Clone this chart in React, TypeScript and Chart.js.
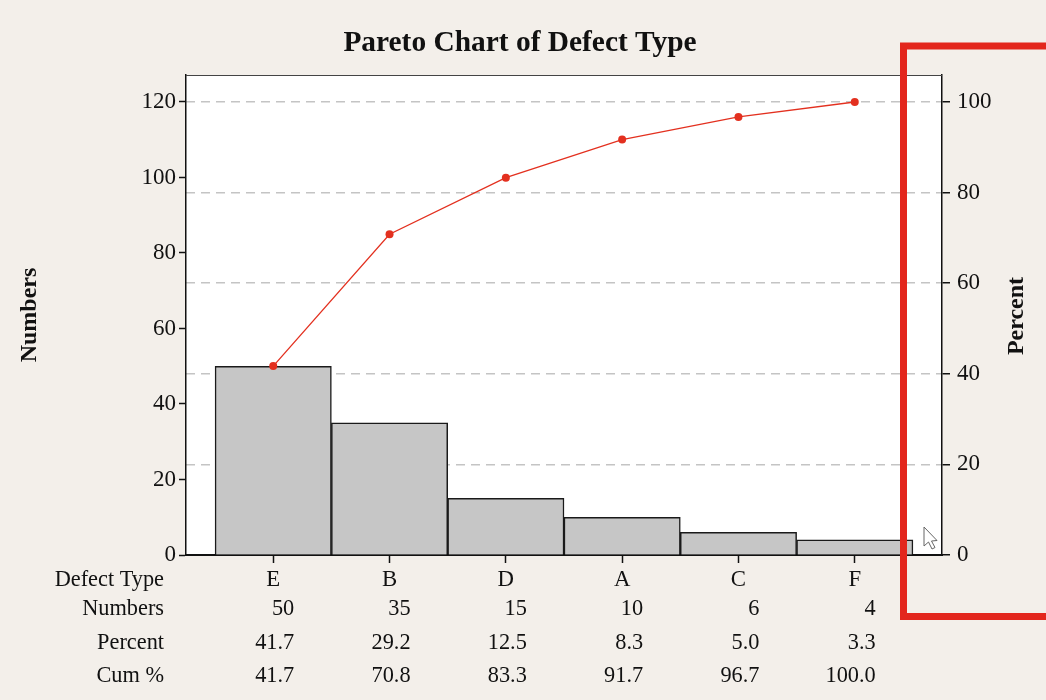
import React, { useEffect, useRef } from 'react';
import { Chart, registerables } from 'chart.js';

Chart.register(...registerables);

const categories = ['E', 'B', 'D', 'A', 'C', 'F'];
const counts = [50, 35, 15, 10, 6, 4];
const percents = [41.7, 29.2, 12.5, 8.3, 5.0, 3.3];
const cumPercents = [41.7, 70.8, 83.3, 91.7, 96.7, 100.0];
const rowLabels = ['Defect Type', 'Numbers', 'Percent', 'Cum %'];
const leftTicks = [0, 20, 40, 60, 80, 100, 120];
const rightTicks = [0, 20, 40, 60, 80, 100];
const chartTitle = 'Pareto Chart of Defect Type';
const leftTitle = 'Numbers';
const rightTitle = 'Percent';

const FONT = '"Liberation Serif", "Times New Roman", serif';

function drawText(
  ctx: CanvasRenderingContext2D,
  text: string,
  x: number,
  y: number,
  align: CanvasTextAlign,
  font: string,
  sx = 1,
  rot = 0
) {
  ctx.save();
  ctx.translate(x, y);
  if (rot) ctx.rotate(rot);
  ctx.scale(sx, 1);
  ctx.font = font;
  ctx.fillStyle = '#111';
  ctx.textAlign = align;
  ctx.textBaseline = 'middle';
  ctx.fillText(text, 0, 0);
  ctx.restore();
}

const paretoPlugin = {
  id: 'paretoDecor',
  beforeDraw(chart: any) {
    const { ctx, chartArea: a } = chart;
    ctx.save();
    ctx.fillStyle = '#f3efea';
    ctx.fillRect(0, 0, chart.width, chart.height);
    ctx.fillStyle = '#ffffff';
    ctx.fillRect(a.left, a.top, a.right - a.left, a.bottom - a.top);
    ctx.restore();
  },
  afterDraw(chart: any) {
    const { ctx, chartArea: a } = chart;
    const xs = chart.scales.x;
    ctx.save();
    ctx.strokeStyle = '#444';
    ctx.lineWidth = 1.2;
    ctx.beginPath();
    ctx.moveTo(a.left, a.top + 0.5);
    ctx.lineTo(a.right, a.top + 0.5);
    ctx.stroke();
    ctx.restore();

    drawText(ctx, chartTitle, 520, 43, 'center', `bold 30px ${FONT}`, 0.98);
    drawText(ctx, leftTitle, 30, 315, 'center', `bold 24px ${FONT}`, 1, -Math.PI / 2);
    drawText(ctx, rightTitle, 1017, 316, 'center', `bold 24px ${FONT}`, 1, -Math.PI / 2);

    const rowY = [580, 609, 643, 676];
    const tf = `24px ${FONT}`;
    rowLabels.forEach((lab, r) => {
      drawText(ctx, lab, 164, rowY[r], 'right', tf, 0.93);
    });
    categories.forEach((c, i) => {
      const px = xs.getPixelForValue(i);
      drawText(ctx, c, px, rowY[0], 'center', tf, 0.95);
      drawText(ctx, String(counts[i]), px + 21, rowY[1], 'right', tf, 0.93);
      drawText(ctx, percents[i].toFixed(1), px + 21, rowY[2], 'right', tf, 0.93);
      drawText(ctx, cumPercents[i].toFixed(1), px + 21, rowY[3], 'right', tf, 0.93);
    });

    // mouse cursor
    ctx.save();
    ctx.translate(924, 527);
    ctx.beginPath();
    ctx.moveTo(0, 0);
    ctx.lineTo(0, 19);
    ctx.lineTo(4.5, 15);
    ctx.lineTo(8, 22);
    ctx.lineTo(11, 20.5);
    ctx.lineTo(7.5, 14);
    ctx.lineTo(13, 13.5);
    ctx.closePath();
    ctx.fillStyle = '#ffffff';
    ctx.fill();
    ctx.strokeStyle = '#666';
    ctx.lineWidth = 1;
    ctx.stroke();
    ctx.restore();

    // red highlight rectangle
    ctx.save();
    ctx.strokeStyle = '#e3261d';
    ctx.lineWidth = 7;
    ctx.strokeRect(903.5, 46, 200, 570.5);
    ctx.restore();
  },
};

export default function App() {
  const ref = useRef<HTMLCanvasElement | null>(null);
  useEffect(() => {
    if (!ref.current) return;
    const chart = new Chart(ref.current, {
      data: {
        datasets: [
          {
            type: 'line',
            label: 'Cum %',
            data: cumPercents.map((v, i) => ({ x: i, y: v })),
            yAxisID: 'y1',
            borderColor: '#e3301f',
            backgroundColor: '#e3301f',
            borderWidth: 1.3,
            pointRadius: 4,
            pointBackgroundColor: '#e3301f',
            pointBorderWidth: 0,
            order: 0,
          },
          {
            type: 'bar',
            label: 'Numbers',
            data: counts.map((v, i) => ({ x: i, y: v })),
            yAxisID: 'y',
            backgroundColor: '#c6c6c6',
            borderColor: '#1a1a1a',
            borderWidth: 1.5,
            borderSkipped: 'bottom',
            barPercentage: 1,
            categoryPercentage: 1,
            order: 1,
          },
        ] as any,
      },
      options: {
        responsive: false,
        animation: false,
        devicePixelRatio: 1,
        layout: { padding: { top: 75, left: 0, right: 0, bottom: 0 } },
        plugins: {
          legend: { display: false },
          title: { display: false },
          tooltip: { enabled: false },
        },
        scales: {
          x: {
            type: 'linear',
            min: -0.75,
            max: 5.75,
            offset: false,
            afterBuildTicks: (s: any) => {
              s.ticks = categories.map((_, i) => ({ value: i }));
            },
            afterFit: (s: any) => {
              s.height = 145;
            },
            ticks: { display: false },
            grid: {
              offset: false,
              drawOnChartArea: false,
              drawTicks: true,
              tickLength: 8,
              tickColor: '#111',
              tickWidth: 1.5,
            },
            border: { color: '#111', width: 2 },
          },
          y: {
            type: 'linear',
            position: 'left',
            min: 0,
            max: 127.15,
            afterBuildTicks: (s: any) => {
              s.ticks = leftTicks.map((v) => ({ value: v }));
            },
            afterFit: (s: any) => {
              s.width = 186;
            },
            ticks: {
              color: '#111',
              font: { family: FONT, size: 23 },
              padding: 3,
            },
            grid: {
              drawOnChartArea: false,
              drawTicks: true,
              tickLength: 7,
              tickColor: '#111',
              tickWidth: 1.5,
            },
            border: { color: '#111', width: 1.5 },
          },
          y1: {
            type: 'linear',
            position: 'right',
            min: 0,
            max: 105.96,
            afterBuildTicks: (s: any) => {
              s.ticks = rightTicks.map((v) => ({ value: v }));
            },
            afterFit: (s: any) => {
              s.width = 104;
            },
            ticks: {
              color: '#111',
              font: { family: FONT, size: 23 },
              padding: 7,
            },
            grid: {
              drawOnChartArea: true,
              drawTicks: true,
              tickLength: 8,
              color: '#c4c4c4',
              lineWidth: 1.5,
              tickColor: '#111',
              tickWidth: 1.5,
              tickBorderDash: [],
            } as any,
            border: { color: '#111', width: 1.5, dash: [9, 6] },
          },
        },
      } as any,
      plugins: [paretoPlugin],
    });
    return () => chart.destroy();
  }, []);
  return (
    <div style={{ position: 'fixed', left: 0, top: 0, width: 1046, height: 700 }}>
      <canvas ref={ref} width={1046} height={700} style={{ display: 'block', width: 1046, height: 700 }} />
    </div>
  );
}
